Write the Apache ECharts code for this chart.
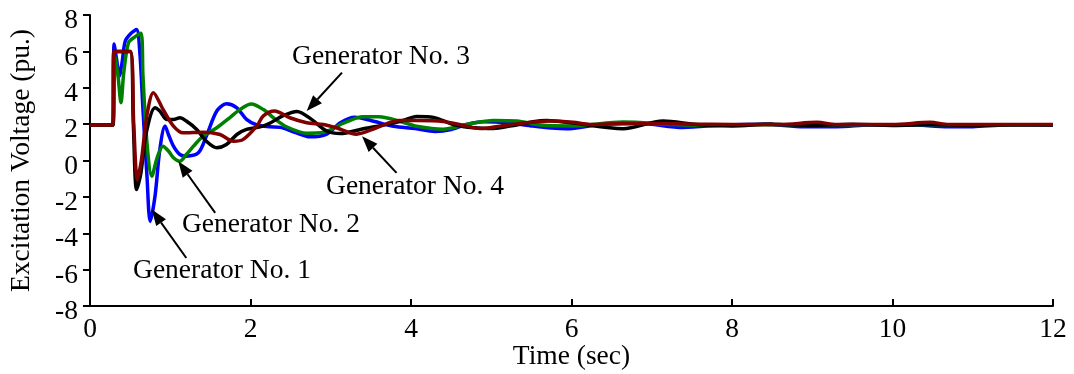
<!DOCTYPE html>
<html>
<head>
<meta charset="utf-8">
<script src="https://cdn.jsdelivr.net/npm/echarts@6/dist/echarts.min.js"></script>
<style>
  html, body { margin: 0; padding: 0; background: #fff; }
  #chart { width: 1074px; height: 374px; }
</style>
</head>
<body>
<div id="chart"></div>
<script>
// Excitation voltage (pu.) of the four generators against time (sec)
const xTicks = [0, 2, 4, 6, 8, 10, 12];
const yTicks = [-8, -6, -4, -2, 0, 2, 4, 6, 8];

const gen1 = [
  [0, 1.95], [0.285, 1.95], [0.3, 6.4], [0.33, 5.6], [0.365, 4.65], [0.4, 5.4], [0.44, 6.57],
  [0.52, 7.03], [0.58, 7.2], [0.62, 6.0], [0.66, 2.8], [0.71, -0.86], [0.75, -3.35], [0.81, -1.97],
  [0.87, 0.6], [0.935, 1.9], [0.98, 1.4], [1.04, 0.79], [1.12, 0.33], [1.2, 0.24], [1.35, 0.42],
  [1.45, 1.34], [1.58, 2.72], [1.7, 3.12], [1.83, 2.9], [1.95, 2.26], [2.08, 1.95], [2.24, 1.85],
  [2.37, 1.82], [2.55, 1.55], [2.74, 1.3], [2.95, 1.45], [3.12, 2.08], [3.3, 2.38], [3.5, 2.2],
  [3.78, 1.88], [4.05, 1.76], [4.3, 1.6], [4.5, 1.7], [4.69, 1.98], [4.9, 2.13], [5.19, 2.08],
  [5.52, 1.89], [5.75, 1.78], [5.94, 1.74], [6.36, 1.98], [6.85, 2.04], [7.39, 1.82], [7.9, 1.95],
  [8.4, 2.0], [8.9, 1.86], [9.3, 1.86], [9.7, 1.95], [10.2, 1.97], [10.7, 1.86], [11.0, 1.86],
  [11.4, 1.95], [12, 1.95]
];

const gen2 = [
  [0, 1.95], [0.285, 1.95], [0.31, 5.8], [0.35, 4.6], [0.386, 3.18], [0.42, 4.8], [0.48, 6.48],
  [0.56, 6.8], [0.635, 7.0], [0.66, 4.65], [0.71, 0.97], [0.77, -0.86], [0.84, 0.2], [0.91, 0.79],
  [0.98, 0.51], [1.04, 0.15], [1.12, -0.04], [1.2, 0.33], [1.29, 0.79], [1.41, 1.34], [1.58, 1.8],
  [1.74, 2.35], [1.87, 2.81], [2.01, 3.1], [2.16, 2.8], [2.3, 2.3], [2.45, 1.85], [2.7, 1.5],
  [2.91, 1.55], [3.16, 2.05], [3.4, 2.4], [3.6, 2.4], [3.9, 2.1], [4.07, 1.88], [4.4, 1.72],
  [4.69, 1.98], [5.03, 2.2], [5.32, 2.17], [5.61, 1.95], [6.02, 1.9], [6.64, 2.11], [7.27, 1.98],
  [7.8, 1.93], [8.3, 1.98], [9, 1.95], [10, 1.97], [11, 1.95], [12, 1.96]
];

const gen3 = [
  [0, 1.95], [0.285, 1.95], [0.3, 6.0], [0.5, 6.0], [0.54, 2.0], [0.58, -1.6], [0.63, -0.8],
  [0.7, 1.5], [0.81, 2.9], [0.87, 2.72], [0.955, 2.26], [1.04, 2.26], [1.12, 2.35], [1.2, 2.17],
  [1.33, 1.71], [1.45, 1.06], [1.58, 0.7], [1.7, 0.88], [1.83, 1.43], [1.95, 1.71], [2.12, 1.85],
  [2.24, 2.05], [2.4, 2.45], [2.58, 2.7], [2.76, 2.26], [2.95, 1.62], [3.12, 1.48], [3.38, 1.72],
  [3.72, 2.0], [3.9, 2.2], [4.07, 2.42], [4.28, 2.37], [4.53, 1.98], [4.78, 1.8], [5.03, 1.76],
  [5.23, 1.89], [5.52, 2.13], [5.69, 2.2], [6.02, 2.06], [6.64, 1.75], [7.14, 2.17], [7.56, 1.98],
  [8.0, 1.9], [8.5, 2.0], [9.0, 1.92], [9.5, 2.0], [10, 1.93], [10.5, 1.98], [11, 1.92],
  [11.5, 1.97], [12, 1.95]
];

const gen4 = [
  [0, 1.95], [0.285, 1.95], [0.295, 6.0], [0.5, 6.0], [0.545, 2.0], [0.59, -1.05], [0.64, 0.0],
  [0.71, 2.5], [0.79, 3.73], [0.91, 2.81], [1.04, 1.89], [1.16, 1.52], [1.41, 1.56], [1.62, 1.43],
  [1.79, 1.06], [1.91, 1.16], [2.08, 1.9], [2.16, 2.45], [2.3, 2.72], [2.49, 2.35], [2.7, 2.08],
  [2.91, 1.98], [3.07, 1.8], [3.32, 1.45], [3.57, 1.8], [3.85, 2.2], [4.07, 2.2], [4.4, 2.15],
  [4.69, 1.89], [4.86, 1.76], [5.11, 1.89], [5.44, 2.08], [5.73, 2.17], [6.02, 2.1], [6.23, 1.98],
  [6.64, 2.04], [7.06, 2.04], [7.5, 2.0], [8.0, 1.98], [8.6, 1.98], [9.06, 2.1], [9.3, 1.98],
  [10.0, 1.98], [10.47, 2.1], [10.7, 1.98], [12, 1.98]
];

const seriesNames = ['Generator No. 1', 'Generator No. 2', 'Generator No. 3', 'Generator No. 4'];
const seriesColors = ['#0000ff', '#008000', '#000000', '#800000'];
const seriesData = [gen1, gen2, gen3, gen4];

// Callout text and arrows, in data units: text centre, arrow tail, arrow tip
const callouts = [
  { name: 'Generator No. 1', text: [1.645, -6.06], tail: [1.2, -5.36], tip: [0.77, -2.7] },
  { name: 'Generator No. 2', text: [2.255, -3.53], tail: [1.56, -2.88], tip: [1.1, -0.04] },
  { name: 'Generator No. 3', text: [3.626, 5.73], tail: [3.14, 4.83], tip: [2.7, 2.72] },
  { name: 'Generator No. 4', text: [4.05, -1.43], tail: [3.82, -0.68], tip: [3.39, 1.34] }
];

const FONT = '"Liberation Serif", "Times New Roman", serif';
const FS = 27.5;

const chart = echarts.init(document.getElementById('chart'), null, { renderer: 'canvas' });

chart.setOption({
  backgroundColor: '#ffffff',
  animation: false,
  textStyle: { fontFamily: FONT },
  grid: { left: 90, right: 21, top: 15, bottom: 68, containLabel: false, outerBoundsMode: 'none' },
  xAxis: {
    type: 'value',
    min: xTicks[0], max: xTicks[xTicks.length - 1], interval: 2,
    name: 'Time (sec)', nameLocation: 'middle', nameGap: 37, nameMoveOverlap: false,
    nameTextStyle: { fontFamily: FONT, fontSize: FS, color: '#000' },
    axisLine: { show: true, onZero: false, lineStyle: { color: '#000', width: 2 } },
    axisTick: { show: true, inside: true, length: 7, lineStyle: { color: '#000', width: 2 } },
    axisLabel: { fontFamily: FONT, fontSize: FS, color: '#000', margin: 10 },
    splitLine: { show: false }
  },
  yAxis: {
    type: 'value',
    min: yTicks[0], max: yTicks[yTicks.length - 1], interval: 2,
    name: 'Excitation Voltage (pu.)', nameLocation: 'middle', nameGap: 54, nameRotate: 90,
    nameMoveOverlap: false,
    nameTextStyle: { fontFamily: FONT, fontSize: FS, color: '#000' },
    axisLine: { show: true, onZero: false, lineStyle: { color: '#000', width: 2 } },
    axisTick: { show: true, inside: false, length: 7, lineStyle: { color: '#000', width: 2 } },
    axisLabel: {
      fontFamily: FONT, fontSize: FS, color: '#000', margin: 12,
      verticalAlign: 'top', lineHeight: 12
    },
    splitLine: { show: false }
  },
  series: seriesData.map((d, i) => ({
    name: seriesNames[i],
    type: 'line',
    data: d,
    showSymbol: false,
    smooth: 0.3,
    z: 2 + i,
    lineStyle: { color: seriesColors[i], width: 3.5 },
    itemStyle: { color: seriesColors[i] }
  }))
});

// Callouts drawn from data coordinates converted by the chart's own axes
function arrowGraphics(c) {
  const p0 = chart.convertToPixel({ gridIndex: 0 }, c.tail);
  const p1 = chart.convertToPixel({ gridIndex: 0 }, c.tip);
  const dx = p1[0] - p0[0], dy = p1[1] - p0[1];
  const len = Math.hypot(dx, dy);
  const ux = dx / len, uy = dy / len;
  const headLen = 16, headHalf = 6;
  const bx = p1[0] - ux * headLen, by = p1[1] - uy * headLen;
  const px = -uy, py = ux;
  return [
    {
      type: 'line', silent: true, z: 20,
      shape: { x1: p0[0], y1: p0[1], x2: bx, y2: by },
      style: { stroke: '#000', lineWidth: 2 }
    },
    {
      type: 'polygon', silent: true, z: 20,
      shape: { points: [[p1[0], p1[1]], [bx + px * headHalf, by + py * headHalf], [bx - px * headHalf, by - py * headHalf]] },
      style: { fill: '#000' }
    }
  ];
}

const graphics = [];
callouts.forEach(c => {
  const t = chart.convertToPixel({ gridIndex: 0 }, c.text);
  graphics.push({
    type: 'text', silent: true, z: 20,
    x: t[0], y: t[1],
    style: {
      text: c.name, fill: '#000', font: FS + 'px ' + FONT,
      align: 'center', verticalAlign: 'middle'
    }
  });
  arrowGraphics(c).forEach(g => graphics.push(g));
});
chart.setOption({ graphic: graphics });
</script>
</body>
</html>
